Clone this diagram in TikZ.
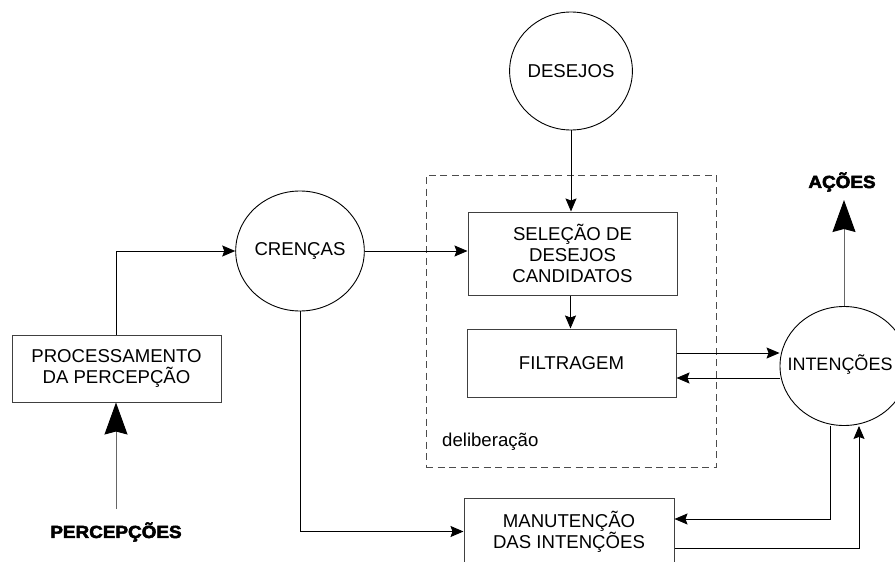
\documentclass[tikz,border=0pt]{standalone}
\usepackage{fontspec}
\setmainfont{Liberation Sans}
\newfontfamily\heavy[FakeBold=3,FakeStretch=1.08]{Liberation Sans Bold}
\usetikzlibrary{arrows.meta,shapes.geometric,calc}
\tikzset{
  lbl/.style={font=\fontsize{18.6}{21}\selectfont, align=center},
  boxnode/.style={lbl, draw=black!75, line width=1pt, minimum width=209pt, inner sep=0pt},
  ell/.style={lbl, ellipse, draw=black, line width=0.9pt, inner sep=0pt},
  dashbox/.style={draw=black!70, line width=0.9pt, dash pattern=on 7pt off 4.5pt, inner sep=0pt},
  heavytxt/.style={font=\heavy\fontsize{17.5}{20}\selectfont, inner sep=1pt},
  arr/.style={draw=black, line width=0.9pt, -{Stealth[length=13pt,width=11pt,inset=2pt]}},
  bigarr/.style={draw=black!60, line width=1pt, -{Stealth[length=32pt,width=23pt,inset=3pt,color=black,fill=black]}},
  plain/.style={draw=black, line width=0.9pt}
}
\begin{document}
\begin{tikzpicture}[x=1pt,y=-1pt]
\useasboundingbox (0,0) rectangle (895,562);
\fill[white] (0,0) rectangle (895,562);
\clip (0,0) rectangle (895,562);

% dashed deliberation box
\node[dashbox, minimum width=290pt, minimum height=292pt] (delib) at (571,321) {};
\node[lbl, anchor=base west, inner sep=0pt] (deltxt) at (442,446) {deliberação};

% boxes
\node[boxnode, minimum height=67pt] (proc) at (116.5,368.5) {PROCESSAMENTO\\DA PERCEPÇÃO};
\node[boxnode, minimum height=83pt] (sel) at (572.5,253.5) {SELEÇÃO DE\\DESEJOS\\CANDIDATOS};
\node[boxnode, minimum height=68pt] (fil) at (571.5,363) {FILTRAGEM};
\node[boxnode, minimum width=210pt, minimum height=67pt] (man) at (569,531.5) {MANUTENÇÃO\\DAS INTENÇÕES};

% ellipses
\node[ell, minimum width=120pt, minimum height=118pt] (des) at (571,71) {DESEJOS};
\node[ell, minimum width=126pt, minimum height=120pt] (cre) at (300,251) {CRENÇAS};
\node[ell, minimum width=128pt, minimum height=119pt] (int) at (844,366) {};
\node[font=\fontsize{18}{21}\selectfont, inner sep=0pt] (inttxt) at (840,365) {INTENÇÕES};

% bold labels
\node[heavytxt] (perc) at (116,532) {PERCEPÇÕES};
\node[heavytxt] (acoes) at (842,182) {AÇÕES};
\coordinate (percstart) at (116,509);
\coordinate (acend) at (844,200);

% connectors
\draw[bigarr] (percstart) -- (percstart |- proc.south);
\draw[arr] (proc.north) |- (cre.west);
\draw[arr] (cre.east) -- (cre.east -| sel.west);
\draw[arr] (des.south) -- (des.south |- sel.north);
\draw[arr] ([xshift=-2pt]sel.south) -- ([xshift=-2pt]sel.south |- fil.north);
\draw[arr] ([yshift=10pt]fil.east) -- ([yshift=10pt]fil.east -| int.west);
\draw[arr] ([yshift=-15pt]fil.east -| int.west) -- ([yshift=-15pt]fil.east);
\draw[bigarr] (int.north) -- (acend);
\draw[arr] (cre.south) |- (man.west);
\draw[arr] ([xshift=-14pt]int.south) |- ([yshift=12.5pt]man.east);
\draw[arr] ([yshift=-16.5pt]man.east) -| ([xshift=15pt]int.south);
\end{tikzpicture}
\end{document}
